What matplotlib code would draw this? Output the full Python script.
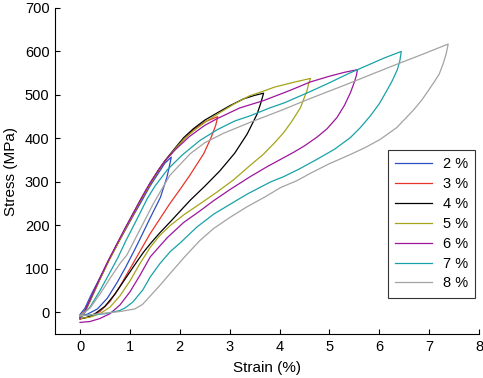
import matplotlib
matplotlib.use('Agg')
import matplotlib.pyplot as plt

plt.rcParams['font.family'] = ['Liberation Sans', 'DejaVu Sans']

labels = ['2 %', '3 %', '4 %', '5 %', '6 %', '7 %', '8 %']
colors = ['#2c4fc2', '#e8342a', '#000000', '#a5a51a', '#9c169c', '#17a2a8', '#a3a3a3']

# 2 % loop
load_2_x = [0, 0.1, 0.23, 0.4, 0.57, 0.75, 0.9, 1.07, 1.24, 1.4, 1.57, 1.7, 1.83]
load_2_y = [-5, 10, 42, 80, 119, 157, 188, 223, 257, 290, 320, 343, 357]
unload_2_x = [1.83, 1.78, 1.74, 1.61, 1.41, 1.25, 1.1, 0.92, 0.75, 0.55, 0.35, 0.15, 0]
unload_2_y = [357, 330, 310, 264, 218, 180, 145, 105, 70, 33, 8, -4, -8]

# 3 % loop
load_3_x = [0, 0.1, 0.23, 0.4, 0.57, 0.75, 0.9, 1.07, 1.24, 1.4, 1.57, 1.71, 1.9, 2.1, 2.27, 2.5, 2.76]
load_3_y = [-8, 4, 36, 78, 118, 157, 190, 226, 262, 294, 325, 349, 375, 400, 420, 438, 450]
unload_3_x = [2.76, 2.72, 2.62, 2.48, 2.34, 2.2, 2.0, 1.8, 1.6, 1.4, 1.2, 1.0, 0.8, 0.6, 0.4, 0.2, 0]
unload_3_y = [450, 430, 400, 365, 340, 315, 282, 250, 215, 180, 140, 100, 60, 25, 2, -10, -15]

# 4 % loop
load_4_x = [0, 0.1, 0.23, 0.4, 0.57, 0.75, 0.9, 1.07, 1.24, 1.4, 1.57, 1.71, 1.9, 2.08, 2.27, 2.5, 2.74, 3.0, 3.28, 3.5, 3.68]
load_4_y = [-12, 2, 34, 77, 118, 158, 191, 228, 264, 296, 327, 350, 377, 402, 422, 442, 458, 475, 491, 499, 504]
unload_4_x = [3.68, 3.62, 3.55, 3.35, 3.1, 2.8, 2.5, 2.21, 2.0, 1.84, 1.6, 1.41, 1.27, 1.1, 0.9, 0.7, 0.5, 0.3, 0.15, 0]
unload_4_y = [504, 480, 456, 410, 366, 325, 290, 258, 232, 212, 183, 158, 138, 110, 76, 42, 14, -3, -11, -15]

# 5 % loop
load_5_x = [0, 0.1, 0.23, 0.4, 0.57, 0.75, 0.9, 1.07, 1.24, 1.4, 1.57, 1.71, 1.9, 2.08, 2.27, 2.54, 2.8, 3.1, 3.4, 3.61, 3.9, 4.28, 4.62]
load_5_y = [-15, 0, 33, 76, 117, 157, 190, 227, 263, 295, 326, 349, 375, 398, 417, 440, 459, 480, 498, 506, 518, 529, 538]
unload_5_x = [4.62, 4.58, 4.55, 4.42, 4.25, 4.08, 3.9, 3.68, 3.41, 3.08, 2.75, 2.41, 2.1, 1.81, 1.6, 1.41, 1.2, 1.0, 0.8, 0.6, 0.4, 0.2, 0]
unload_5_y = [538, 525, 510, 471, 440, 413, 390, 364, 338, 305, 277, 250, 226, 200, 177, 150, 112, 72, 38, 12, -3, -11, -14]

# 6 % loop
load_6_x = [0, 0.1, 0.23, 0.4, 0.57, 0.75, 0.9, 1.07, 1.24, 1.4, 1.57, 1.71, 1.9, 2.2, 2.5, 2.74, 3.2, 3.68, 4.2, 4.62, 5.0, 5.3, 5.56]
load_6_y = [-14, 3, 36, 79, 120, 160, 193, 229, 265, 297, 327, 349, 373, 405, 430, 445, 470, 487, 510, 530, 543, 552, 558]
unload_6_x = [5.56, 5.54, 5.5, 5.42, 5.3, 5.15, 4.95, 4.75, 4.5, 4.28, 3.75, 3.41, 3.0, 2.68, 2.4, 2.08, 1.75, 1.41, 1.2, 1.0, 0.8, 0.6, 0.4, 0.2, 0]
unload_6_y = [558, 545, 530, 505, 476, 448, 422, 403, 383, 368, 335, 312, 282, 257, 233, 207, 172, 128, 85, 47, 17, -3, -14, -21, -23]

# 7 % loop
load_7_x = [0, 0.2, 0.4, 0.6, 0.76, 0.92, 1.1, 1.35, 1.5, 1.75, 2.05, 2.4, 2.75, 3.1, 3.41, 3.8, 4.1, 4.62, 5.0, 5.4, 5.8, 6.1, 6.44]
load_7_y = [-10, 12, 50, 92, 126, 165, 205, 262, 290, 328, 362, 395, 420, 440, 452, 470, 482, 508, 528, 550, 570, 585, 600]
unload_7_x = [6.44, 6.41, 6.36, 6.26, 6.16, 6.0, 5.82, 5.62, 5.42, 5.1, 4.75, 4.4, 4.08, 3.82, 3.35, 3.0, 2.68, 2.34, 2.01, 1.81, 1.6, 1.41, 1.26, 1.06, 0.9, 0.79, 0.5, 0]
unload_7_y = [600, 578, 558, 533, 512, 480, 452, 425, 402, 375, 352, 330, 312, 300, 272, 248, 226, 196, 160, 140, 112, 82, 52, 24, 10, 4, -3, -8]

# 8 % loop
load_8_x = [0, 0.2, 0.4, 0.6, 0.8, 0.94, 1.2, 1.47, 1.8, 2.21, 2.5, 2.88, 3.41, 4.02, 4.62, 5.36, 5.9, 6.36, 6.9, 7.38]
load_8_y = [-8, 10, 42, 78, 112, 132, 190, 250, 315, 365, 390, 412, 437, 464, 492, 525, 550, 571, 595, 617]
unload_8_x = [7.38, 7.34, 7.28, 7.2, 7.1, 7.0, 6.85, 6.69, 6.35, 6.02, 5.7, 5.36, 5.0, 4.62, 4.35, 4.02, 3.7, 3.35, 3.0, 2.68, 2.4, 2.1, 1.81, 1.6, 1.41, 1.25, 1.1, 0.8, 0.4, 0]
unload_8_y = [617, 595, 572, 548, 530, 513, 488, 466, 425, 398, 378, 360, 342, 320, 303, 287, 265, 243, 218, 193, 165, 128, 90, 62, 38, 18, 8, 2, -3, -8]

loops = [
    (load_2_x, load_2_y, unload_2_x, unload_2_y),
    (load_3_x, load_3_y, unload_3_x, unload_3_y),
    (load_4_x, load_4_y, unload_4_x, unload_4_y),
    (load_5_x, load_5_y, unload_5_x, unload_5_y),
    (load_6_x, load_6_y, unload_6_x, unload_6_y),
    (load_7_x, load_7_y, unload_7_x, unload_7_y),
    (load_8_x, load_8_y, unload_8_x, unload_8_y),
]

x_ticks = [0, 1, 2, 3, 4, 5, 6, 7, 8]
y_ticks = [0, 100, 200, 300, 400, 500, 600, 700]

fig = plt.figure(figsize=(4.83, 3.78), dpi=100)
ax = fig.add_axes([0.114, 0.116, 0.878, 0.863])

for (lx, ly, ux, uy), c, lab in zip(loops, colors, labels):
    ax.plot(list(lx) + list(ux[1:]), list(ly) + list(uy[1:]), color=c, lw=0.9, label=lab)

ax.set_xlim(-0.5, 8)
ax.set_ylim(-50, 700)
ax.set_xticks(x_ticks)
ax.set_yticks(y_ticks)
ax.tick_params(direction='in', length=3.5, width=0.8, labelsize=10.5, colors='black', pad=4)
ax.spines['top'].set_visible(False)
ax.spines['right'].set_visible(False)
for s in ['left', 'bottom']:
    ax.spines[s].set_linewidth(0.8)
ax.set_xlabel('Strain (%)', fontsize=11, labelpad=5)
ax.set_ylabel('Stress (MPa)', fontsize=11, labelpad=5)

leg = ax.legend(loc='upper left', bbox_to_anchor=(0.785, 0.564), fontsize=10.5,
                frameon=True, fancybox=False, handlelength=2.5, labelspacing=0.4,
                borderpad=0.5, handletextpad=0.75, borderaxespad=0)
leg.get_frame().set_edgecolor('black')
leg.get_frame().set_linewidth(0.8)

fig.savefig('out.png', dpi=100)
